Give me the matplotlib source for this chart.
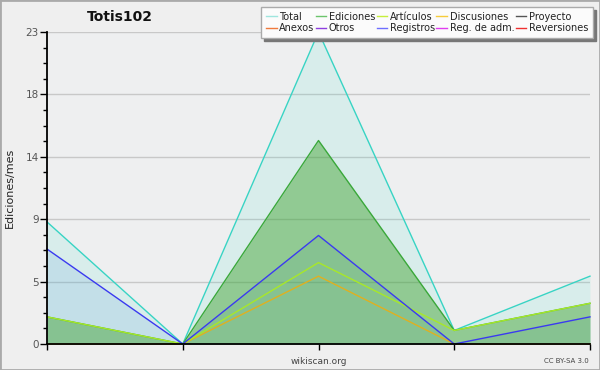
import matplotlib
matplotlib.use("Agg")
import matplotlib.pyplot as plt
from matplotlib.lines import Line2D
import numpy as np

title = "Totis102"
periods = [0, 1, 2, 3, 4]
total = [9, 0, 23, 1, 5]
ediciones = [2, 0, 15, 1, 3]
articulos = [2, 0, 6, 1, 3]
discusiones = [0, 0, 5, 0, 0]
registros = [7, 0, 8, 0, 2]
ymax = 23
legend_labels = ["Total", "Ediciones", "Artículos", "Discusiones", "Proyecto",
                 "Anexos", "Otros", "Registros", "Reg. de adm.", "Reversiones"]
legend_colors = ["#9fe6de", "#6cc46c", "#c6ee3c", "#f6cc3a", "#555555",
                 "#f07a3c", "#8e3ee0", "#6e6eff", "#e03cf0", "#f03030"]

plt.rcParams['font.family'] = ['DejaVu Sans']
fig = plt.figure(figsize=(6, 3.7), dpi=100, facecolor="#efefef")
ax = fig.add_axes([47/600, 1-344/370, (590-47)/600, (344-32)/370])
ax.set_facecolor("#eeeff0")

x = np.array(periods)
# fills
ax.fill_between(x, 0, total, color="#40e0c8", alpha=0.12, lw=0, zorder=1)
ax.fill_between(x, 0, registros, color="#4d90d7", alpha=0.15, lw=0, zorder=2)
ax.fill_between(x, 0, ediciones, color="#3ca028", alpha=0.45, lw=0, zorder=3)

# lines
ax.plot(x, total, color="#38d4c4", lw=1.0, zorder=5, clip_on=False)
ax.plot(x, ediciones, color="#3aa83a", lw=1.0, zorder=5, clip_on=False)
ax.plot(x, discusiones, color="#e0b020", lw=1.0, zorder=6, clip_on=False)
ax.plot(x, articulos, color="#a8e828", lw=1.0, zorder=6, clip_on=False)
ax.plot(x, registros, color="#3a3af0", lw=1.0, zorder=7, clip_on=False)

ax.set_xlim(0, 4)
ax.set_ylim(0, ymax)
major = np.linspace(0, ymax, 6)
ax.set_yticks(major)
ax.set_yticklabels([str(int(round(v))) for v in major])
ax.set_yticks(np.arange(0, ymax + 0.01, ymax / 20), minor=True)
ax.set_xticks(x)
ax.set_xticklabels([])
ax.grid(axis="y", which="major", color="#c8c8c8", lw=1.0, zorder=0)
ax.set_axisbelow(True)
for s in ["top", "right"]:
    ax.spines[s].set_visible(False)
for s in ["left", "bottom"]:
    ax.spines[s].set_linewidth(1.3)
    ax.spines[s].set_color("black")
    ax.spines[s].set_zorder(8)
ax.tick_params(axis="y", which="major", length=5, width=1, direction="out",
               labelsize=7.5, labelcolor="#555555", pad=1)
ax.tick_params(axis="y", which="minor", length=3, width=1, direction="out")
ax.tick_params(axis="x", which="major", length=4, width=1, direction="out")

fig.text(10/600, 1-188/370, "Ediciones/mes", rotation=90, ha="center", va="center",
         fontsize=8, color="#222222")
fig.text(120/600, 1-17/370, title, ha="center", va="center", fontsize=10,
         fontweight="bold", color="#111111")
fig.text(319/600, 1-361/370, "wikiscan.org", ha="center", va="center",
         fontsize=6.5, color="#444444")
fig.text(589/600, 1-361/370, "CC BY-SA 3.0", ha="right", va="center",
         fontsize=5, color="#444444")

# legend: row-wise order -> column-wise
handles = [Line2D([], [], color=c, lw=1) for c in legend_colors]
order = []
for c in range(5):
    order += [c, c + 5]
leg = fig.legend([handles[i] for i in order], [legend_labels[i] for i in order],
                 ncol=5, loc="upper right", bbox_to_anchor=(593/600, 1-7/370),
                 fontsize=7.0, frameon=True, fancybox=False, handlelength=1.1,
                 handletextpad=0.25, columnspacing=0.15, labelspacing=0.15,
                 borderpad=0.5, borderaxespad=0,
                 shadow={"color": "#777777", "alpha": 1, "ox": 2, "oy": -2})
leg.get_frame().set_edgecolor("#aaaaaa")
leg.get_frame().set_linewidth(1.0)
leg.get_frame().set_facecolor("#fbfbfb")
leg.get_frame().set_alpha(1)
for t in leg.get_texts():
    t.set_color("#222222")

# figure border
fig.patches.append(plt.Rectangle((0, 0), 1, 1, transform=fig.transFigure,
                                 fill=False, edgecolor="#aaaaaa", lw=2))
fig.savefig("out.png", dpi=100, facecolor=fig.get_facecolor())
